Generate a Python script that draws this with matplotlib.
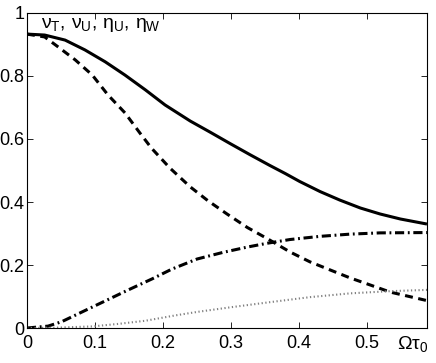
import numpy as np
import matplotlib
matplotlib.use("Agg")
import matplotlib.pyplot as plt

plt.rcParams["font.family"] = ["Liberation Sans", "DejaVu Sans"]
plt.rcParams["mathtext.fontset"] = "custom"
plt.rcParams["mathtext.rm"] = "Liberation Sans"
plt.rcParams["mathtext.it"] = "Liberation Sans"
plt.rcParams["mathtext.bf"] = "Liberation Sans:bold"

# values (x = Omega*tau_0)
x_solid = [0, 0.026, 0.056, 0.085, 0.115, 0.144, 0.174, 0.203, 0.240, 0.269, 0.299,
           0.328, 0.357, 0.380, 0.401, 0.431, 0.460, 0.490, 0.519, 0.549, 0.588]
nu_T = [0.933, 0.930, 0.914, 0.883, 0.845, 0.803, 0.756, 0.708, 0.657, 0.622, 0.585,
        0.550, 0.516, 0.490, 0.465, 0.433, 0.406, 0.381, 0.362, 0.346, 0.330]

x_dash = [0, 0.026, 0.046, 0.071, 0.096, 0.119, 0.144, 0.166, 0.183, 0.210, 0.240,
          0.266, 0.294, 0.324, 0.353, 0.387, 0.416, 0.446, 0.475, 0.504, 0.534, 0.588]
nu_U = [0.933, 0.924, 0.892, 0.851, 0.803, 0.740, 0.683, 0.619, 0.571, 0.508, 0.448,
        0.404, 0.362, 0.319, 0.284, 0.241, 0.210, 0.184, 0.159, 0.137, 0.114, 0.087]

x_dd = [0, 0.031, 0.051, 0.081, 0.115, 0.149, 0.184, 0.213, 0.250, 0.288, 0.324,
        0.353, 0.387, 0.431, 0.475, 0.519, 0.588]
eta_U = [0, 0.006, 0.020, 0.051, 0.086, 0.121, 0.156, 0.187, 0.219, 0.240, 0.257,
         0.269, 0.281, 0.291, 0.298, 0.302, 0.303]

x_dot = [0, 0.04, 0.096, 0.134, 0.174, 0.218, 0.25, 0.3, 0.357, 0.416, 0.475, 0.534, 0.588]
eta_W = [0, 0.001, 0.005, 0.013, 0.023, 0.040, 0.051, 0.066, 0.082, 0.098, 0.110, 0.117, 0.121]

xticks = [0, 0.1, 0.2, 0.3, 0.4, 0.5]
yticks = [0, 0.2, 0.4, 0.6, 0.8, 1]

fig = plt.figure(figsize=(4.36, 3.63), dpi=100)
ax = fig.add_axes([0.0619, 0.0964, 0.9174, 0.8678])

ax.plot(x_solid, nu_T, color="k", lw=2.2, solid_capstyle="butt")
ax.plot(x_dash, nu_U, color="k", lw=2.2, dashes=(2.6, 1.8))
ax.plot(x_dd, eta_U, color="k", lw=2.2, dashes=(3.0, 1.2, 0.6, 1.2))
ax.plot(x_dot, eta_W, color="0.5", lw=1.5, dashes=(0.6, 1.2))

ax.set_xlim(0, 0.588)
ax.set_ylim(0, 1)
ax.set_xticks(xticks)
ax.set_xticklabels(["0", "0.1", "0.2", "0.3", "0.4", "0.5"])
ax.set_yticks(yticks)
ax.set_yticklabels(["0", "0.2", "0.4", "0.6", "0.8", "1"])
ax.tick_params(direction="in", top=True, right=True, labelsize=13, length=4, width=0.6)
ax.tick_params(axis="x", pad=5)
ax.tick_params(axis="y", pad=2)
for s in ax.spines.values():
    s.set_linewidth(0.8)

ax.text(0.035, 0.99, r"$\nu_T,\,\nu_U,\,\eta_U,\,\eta_W$", fontsize=14, va="top", ha="left",
        transform=ax.transAxes)
ax.text(0.925, -0.02, r"$\Omega\tau_0$", fontsize=14, va="top", ha="left",
        transform=ax.transAxes)

fig.savefig("out.png", dpi=100)
